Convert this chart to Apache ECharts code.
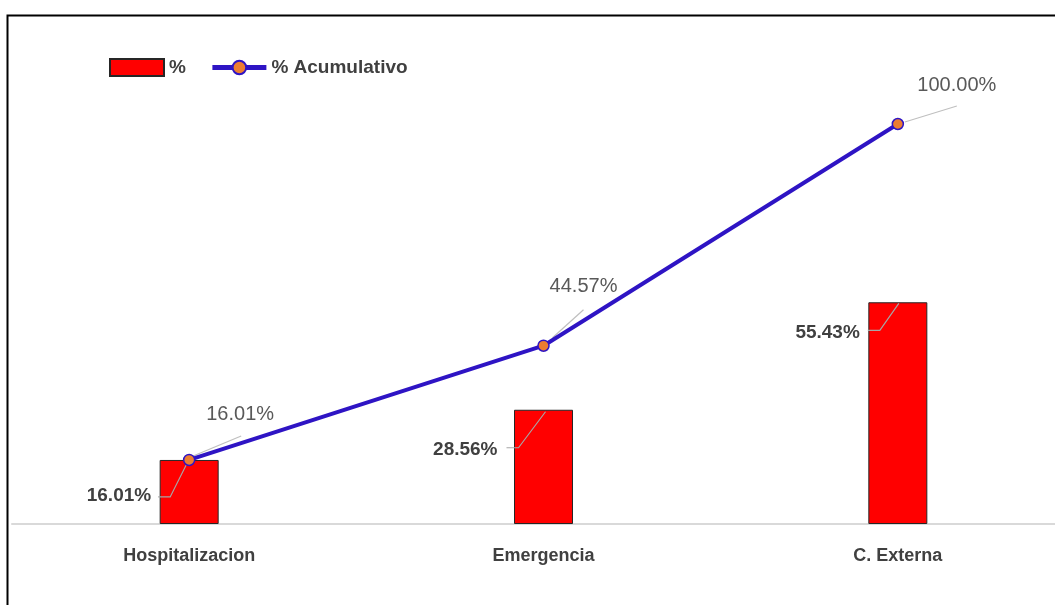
<!DOCTYPE html>
<html><head><meta charset="utf-8">
<script src="https://cdn.jsdelivr.net/npm/echarts@6/dist/echarts.min.js"></script>
<style>html,body{margin:0;padding:0;background:#fff;overflow:hidden}#c{width:1075px;height:605px}</style>
</head><body><div id="c"></div>
<script>
const categories = ['Hospitalizacion', 'Emergencia', 'C. Externa'];
const pctValues = [16.01, 28.56, 55.43];
const cumValues = [16.01, 44.57, 100.00];
const seriesNames = ['%', '% Acumulativo'];

// label layout offsets (style only)
const lineLabelOff = [[51, -45], [40, -59], [59, -39]];
const lineLeader = [[[4, -4], [52, -24]], [[9, -8], [40, -36]], [[7, -2], [59, -18]]];
const barLabelOff = [[-38, 36], [-46, 40], [-38, 30]];
const barLeader = [[[-31, 37], [-19, 37], [-1, 1]], [[-37, 38], [-25, 38], [2, 2]], [[-30, 28], [-18, 28], [1, 1]]];

const FONT = 'Liberation Sans, Arial, sans-serif';
const BLUE = '#2E14C4';
const fmt = p => p.value.toFixed(2) + '%';
const frame = {
  type: 'rect', id: 'frame', left: 5, top: 13, z: 100,
  shape: {x: 0, y: 0, width: 1200, height: 800},
  style: {fill: 'none', stroke: '#000', lineWidth: 2}
};

const chart = echarts.init(document.getElementById('c'), null, {renderer: 'canvas'});
chart.setOption({
  animation: false,
  backgroundColor: '#fff',
  textStyle: {fontFamily: FONT},
  graphic: [frame],
  legend: {
    left: 109, top: 58, padding: 0, itemWidth: 54, itemHeight: 17, itemGap: 24,
    data: [{name: seriesNames[0], icon: 'rect'}, {name: seriesNames[1], lineStyle: {width: 5}}],
    textStyle: {fontFamily: FONT, fontSize: 19, fontWeight: 'bold', color: '#404040'}
  },
  grid: {left: 12, right: 0, top: 44, height: 480, containLabel: false},
  xAxis: {
    type: 'category', data: categories,
    axisLine: {show: true, lineStyle: {color: '#D9D9D9', width: 2}},
    axisTick: {show: false},
    axisLabel: {fontFamily: FONT, fontSize: 18, fontWeight: 'bold', color: '#404040', margin: 23}
  },
  yAxis: {type: 'value', min: 0, max: 120, show: false, splitLine: {show: false}},
  series: [
    {
      name: seriesNames[0], type: 'bar', data: pctValues, barWidth: 59,
      itemStyle: {color: '#FF0000', borderColor: '#262626', borderWidth: 1},
      label: {show: true, position: 'inside', formatter: fmt, fontFamily: FONT, fontSize: 19, fontWeight: 'bold', color: '#404040'},
      labelLayout: function (p) {
        const i = p.dataIndex, r = p.rect;
        const cx = r.x + r.width / 2, top = r.y;
        return {x: cx + barLabelOff[i][0], y: top + barLabelOff[i][1], align: 'right', verticalAlign: 'middle'};
      },
      z: 2
    },
    {
      name: seriesNames[1], type: 'line', data: cumValues,
      lineStyle: {color: BLUE, width: 4},
      itemStyle: {color: '#ED7D31', borderColor: BLUE, borderWidth: 1.5},
      symbol: 'circle', symbolSize: 11, showAllSymbol: true,
      label: {show: true, position: 'inside', formatter: fmt, fontFamily: FONT, fontSize: 20, color: '#595959'},
      labelLayout: function (p) {
        const i = p.dataIndex, r = p.rect;
        const cx = r.x + r.width / 2, cy = r.y + r.height / 2;
        return {x: cx + lineLabelOff[i][0], y: cy + lineLabelOff[i][1], align: 'center', verticalAlign: 'middle'};
      },
      z: 5
    }
  ]
});

// leader lines, positioned through the chart's own scales
const leaders = [];
pctValues.forEach((v, i) => {
  const [cx, top] = chart.convertToPixel({xAxisIndex: 0, yAxisIndex: 0}, [i, v]);
  leaders.push({
    type: 'polyline', id: 'bl' + i, z: 3, silent: true,
    shape: {points: barLeader[i].map(q => [cx + q[0], top + q[1]])},
    style: {stroke: '#A6A6A6', lineWidth: 1.2, fill: 'none'}
  });
});
cumValues.forEach((v, i) => {
  const [cx, cy] = chart.convertToPixel({xAxisIndex: 0, yAxisIndex: 0}, [i, v]);
  leaders.push({
    type: 'polyline', id: 'll' + i, z: 4, silent: true,
    shape: {points: lineLeader[i].map(q => [cx + q[0], cy + q[1]])},
    style: {stroke: '#BFBFBF', lineWidth: 1.2, fill: 'none'}
  });
});
chart.setOption({graphic: [frame].concat(leaders)});
</script></body></html>
